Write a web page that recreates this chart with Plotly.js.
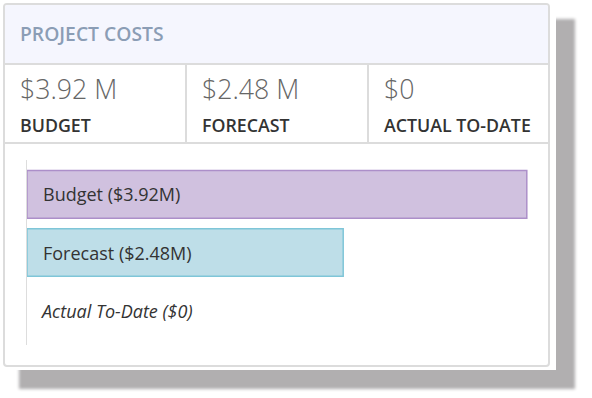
<!DOCTYPE html>
<html>
<head>
<meta charset="utf-8">
<script src="https://cdn.plot.ly/plotly-3.0.1.min.js"></script>
<style>
  html, body { margin:0; padding:0; background:#fff; width:592px; height:398px; overflow:hidden; font-family:"Open Sans", sans-serif; }
  #wrap { position:absolute; left:0; top:0; width:556px; height:370px; background:#fff; box-shadow:19px 19px 3px #b1afb0; }
  #card { position:absolute; left:3px; top:3px; width:543px; height:360px; border:2px solid #dcdcdc; border-radius:4px; background:#fff; overflow:hidden; }
  #head { position:absolute; left:0; top:0; width:100%; height:58px; background:#f5f6fe; border-bottom:2px solid #dcdcdc; }
  #head span { position:absolute; left:15px; top:15px; font-size:19.3px; font-weight:600; color:#8b9db5; letter-spacing:0; }
  .stat { position:absolute; top:60px; height:77px; border-bottom:2px solid #dcdcdc; }
  .stat .v { position:absolute; left:15px; top:5px; font-size:26.7px; font-weight:300; color:#666; white-space:nowrap; }
  .stat .l { position:absolute; left:15px; top:48px; font-size:17.8px; font-weight:600; color:#333; white-space:nowrap; }
  #chart { position:absolute; left:0; top:139px; width:543px; height:221px; }
</style>
</head>
<body>
<div id="wrap">
  <div id="card">
    <div id="head"><span>PROJECT COSTS</span></div>
    <div id="stats"></div>
    <div id="chart"></div>
  </div>
</div>
<script>
const statValues = ["$3.92 M", "$2.48 M", "$0"];
const statLabels = ["BUDGET", "FORECAST", "ACTUAL TO-DATE"];
const categories = ["Budget", "Forecast", "Actual To-Date"];
const values = [3.92, 2.48, 0];
const barLabels = ["Budget ($3.92M)", "Forecast ($2.48M)", "<i>Actual To-Date ($0)</i>"];
const fillColors = ["#d0c1df", "#bedee8", "#ffffff"];
const lineColors = ["#ac8fc9", "#7fc6d8", "#ffffff"];

// stats row
const stats = document.getElementById('stats');
const colW = [182, 182, 179];
let left = 0;
statValues.forEach((v, i) => {
  const d = document.createElement('div');
  d.className = 'stat';
  d.style.left = left + 'px';
  d.style.width = colW[i] + 'px';
  if (i < 2) { d.style.borderRight = '2px solid #dcdcdc'; d.style.width = (colW[i]-2) + 'px'; }
  d.innerHTML = '<div class="v">' + v + '</div><div class="l">' + statLabels[i] + '</div>';
  stats.appendChild(d);
  left += colW[i];
});

const trace = {
  type: 'bar', orientation: 'h',
  x: values, y: categories,
  width: 0.82,
  marker: { color: fillColors, line: { color: lineColors, width: 1.5 } },
  hoverinfo: 'none'
};
const annotations = categories.map((c, i) => ({
  x: 0, y: c, xref: 'x', yref: 'y', xanchor: 'left', yanchor: 'middle',
  xshift: i === 2 ? 11 : 14, showarrow: false, text: barLabels[i],
  font: { family: 'Open Sans', size: 18, color: '#333' }
}));
Plotly.newPlot('chart', [trace], {
  width: 543, height: 221,
  margin: { l: 22, r: 11, t: 16, b: 20, pad: 0 },
  paper_bgcolor: 'rgba(0,0,0,0)', plot_bgcolor: 'rgba(0,0,0,0)',
  showlegend: false,
  xaxis: { range: [0, 4], visible: false, fixedrange: true },
  yaxis: { type: 'category', range: [2.59, -0.59], showticklabels: false, showgrid: false, zeroline: false,
           showline: true, linecolor: '#dddddd', linewidth: 1.5, ticks: '', fixedrange: true },
  annotations: annotations
}, { displayModeBar: false, staticPlot: true });
</script>
</body>
</html>
